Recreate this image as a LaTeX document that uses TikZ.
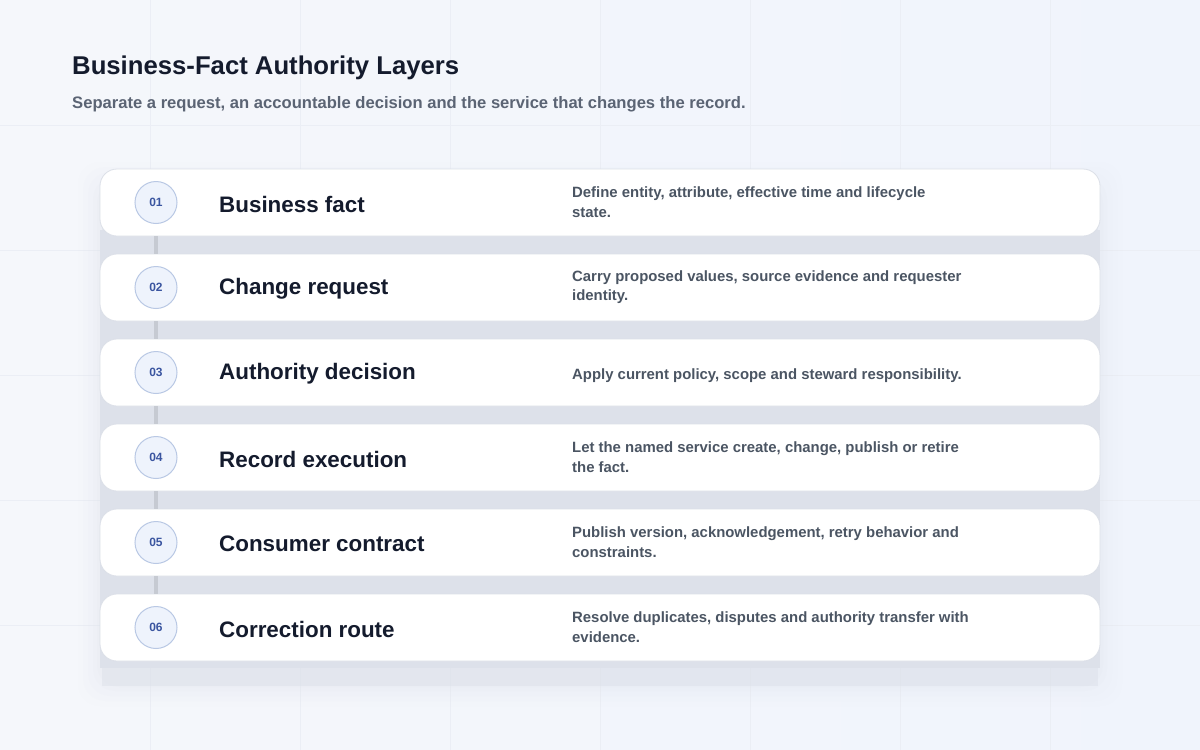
\documentclass[tikz,border=0pt]{standalone}
\usepackage{fontspec}
\setmainfont{Liberation Sans}
\definecolor{bgA}{HTML}{F5F7FB}
\definecolor{bgB}{HTML}{F0F4FC}
\definecolor{gridc}{HTML}{EBEEF5}
\definecolor{panelc}{HTML}{DDE1EA}
\definecolor{titlec}{HTML}{141B2D}
\definecolor{subc}{HTML}{5B6474}
\definecolor{desc}{HTML}{4B5563}
\definecolor{numc}{HTML}{3A55A0}
\definecolor{circf}{HTML}{EEF3FC}
\definecolor{circd}{HTML}{B9C8E4}
\definecolor{linkc}{HTML}{C6CAD2}
\definecolor{cardd}{HTML}{DCE0E8}
\tikzset{
  card/.style={draw=cardd, line width=0.8pt, fill=white, rounded corners=17pt,
    minimum width=1000pt, minimum height=67pt, inner sep=0pt},
  numcirc/.style={circle, draw=circd, line width=1pt, fill=circf, minimum size=42pt,
    inner sep=0pt, text=numc, font=\bfseries\fontsize{12}{14}\selectfont},
  cardtitle/.style={anchor=west, text=titlec, inner sep=0pt,
    font=\bfseries\fontsize{22.4}{26}\selectfont},
  carddesc/.style={anchor=west, text=desc, inner sep=0pt, align=left,
    font=\bfseries\fontsize{14.9}{19.5}\selectfont},
  link/.style={draw=linkc, line width=4pt}
}
\begin{document}
\begin{tikzpicture}[x=1pt,y=-1pt]
\useasboundingbox (0,0) rectangle (1200,750);
\shade[left color=bgA, right color=bgB] (0,0) rectangle (1200,750);
\foreach \gx in {150,300,...,1050} \draw[gridc, line width=0.8pt] (\gx,0) -- (\gx,750);
\foreach \gy in {125,250,...,625} \draw[gridc, line width=0.8pt] (0,\gy) -- (1200,\gy);
% soft shadow behind the stack
\foreach \e/\o in {22/0.04,17/0.05,12/0.06,7/0.08,3/0.10}
  \fill[panelc, opacity=\o, rounded corners=22pt] (100-\e,184-\e) rectangle (1100+\e,684+\e);
\fill[panelc, opacity=0.5] (102,190) rectangle (1098,686);
\fill[panelc] (100,230) rectangle (1100,668);
% header
\node[anchor=west, text=titlec, inner sep=0pt, font=\bfseries\fontsize{25.7}{30}\selectfont] (title) at (72,68) {Business-Fact Authority Layers};
\node[anchor=west, text=subc, inner sep=0pt, font=\bfseries\fontsize{16.6}{20}\selectfont] (subtitle) at (72,104) {Separate a request, an accountable decision and the service that changes the record.};
% cards
\foreach \i/\num/\ttl/\dsc/\dy [count=\k] in {
  0/01/Business fact/{Define entity, attribute, effective time and lifecycle\\state.}/-0.5,
  1/02/Change request/{Carry proposed values, source evidence and requester\\identity.}/-0.5,
  2/03/Authority decision/{Apply current policy, scope and steward responsibility.}/3.5,
  3/04/Record execution/{Let the named service create, change, publish or retire\\the fact.}/-0.5,
  4/05/Consumer contract/{Publish version, acknowledgement, retry behavior and\\constraints.}/-0.5,
  5/06/Correction route/{Resolve duplicates, disputes and authority transfer with\\evidence.}/-0.5}
{
  \node[card] (card\k) at (600,202.5+85*\i) {};
  \node[numcirc] (num\k) at (156,202.5+85*\i) {\num};
  \node[cardtitle] (ttl\k) at (219,204+85*\i) {\ttl};
  \node[carddesc] (dsc\k) at (572,202.5+\dy+85*\i) {\dsc};
}
\foreach \a/\b in {1/2,2/3,3/4,4/5,5/6}
  \draw[link] (card\a.south -| num\a) -- (card\b.north -| num\b);
\end{tikzpicture}
\end{document}
